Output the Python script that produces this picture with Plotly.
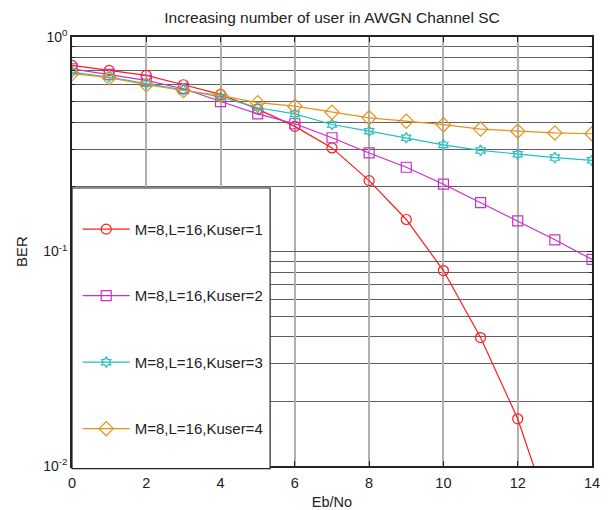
import plotly.graph_objects as go

ebno = [0, 1, 2, 3, 4, 5, 6, 7, 8, 9, 10, 11, 12, 13, 14]
ber_k1 = [0.737, 0.699, 0.662, 0.599, 0.540, 0.461, 0.383, 0.304, 0.214, 0.141, 0.0815, 0.0397, 0.0166, 0.0051]
ber_k2 = [0.711, 0.670, 0.628, 0.574, 0.500, 0.438, 0.394, 0.339, 0.288, 0.247, 0.206, 0.169, 0.139, 0.1134, 0.0918]
ber_k3 = [0.686, 0.651, 0.606, 0.567, 0.525, 0.468, 0.438, 0.391, 0.364, 0.339, 0.314, 0.296, 0.284, 0.274, 0.266]
ber_k4 = [0.675, 0.646, 0.599, 0.563, 0.534, 0.494, 0.476, 0.446, 0.420, 0.405, 0.390, 0.372, 0.364, 0.357, 0.354]

names = ["M=8,L=16,Kuser=1", "M=8,L=16,Kuser=2", "M=8,L=16,Kuser=3", "M=8,L=16,Kuser=4"]
colors = ["#ff1a1a", "#cc2ecc", "#22c0c0", "#e8901a"]
symbols = ["circle-open", "square-open", "hexagram-open", "diamond-open"]
sizes = [10, 10, 8, 11]
series = [ber_k1, ber_k2, ber_k3, ber_k4]

ytick_vals = [0.01, 0.1, 1]
ytick_text = ["10<sup>-2</sup>", "10<sup>-1</sup>", "10<sup>0</sup>"]
xtick_vals = [0, 2, 4, 6, 8, 10, 12, 14]
yminor_vals = [m * 10.0 ** e for e in (-2, -1) for m in range(2, 10)]

font = "Arial, Liberation Sans, sans-serif"

fig = go.Figure()
for i, (vals, name) in enumerate(zip(series, names)):
    fig.add_trace(go.Scatter(
        x=ebno[:len(vals)], y=vals, name=name, mode="lines+markers",
        legendgroup=f"g{i}",
        line=dict(color=colors[i], width=1.2),
        marker=dict(symbol=symbols[i], size=sizes[i], color=colors[i],
                    line=dict(width=1.2, color=colors[i])),
    ))

fig.update_layout(
    width=610, height=510,
    margin=dict(l=72, r=18, t=37, b=44),
    paper_bgcolor="white", plot_bgcolor="white",
    font=dict(family=font, size=14, color="#222"),
    title=dict(text="Increasing number of user in AWGN Channel SC",
               x=(72 + 260) / 610, xanchor="center", y=1 - 18 / 510, yanchor="middle",
               font=dict(size=15.5, family=font, color="#222")),
    showlegend=True,
    legend=dict(x=0.011, xanchor="left", y=0.59, yanchor="top",
                bgcolor="rgba(0,0,0,0)", borderwidth=0,
                font=dict(size=15, family=font, color="#222"),
                tracegroupgap=44, itemwidth=47),
    shapes=[dict(type="rect", xref="paper", yref="paper",
                 x0=0.0, x1=0.381, y0=-0.006, y1=0.648,
                 fillcolor="white", line=dict(color="#222", width=1.2), layer="above")],
)

fig.update_xaxes(
    range=[0, 14], tickvals=xtick_vals, ticks="inside", ticklen=5, tickcolor="#222",
    showline=True, linecolor="#222", linewidth=1.5, mirror="ticks",
    showgrid=True, gridcolor="#b0b0b0", gridwidth=1.5, zeroline=False,
    automargin=False, ticklabelstandoff=3,
    title=dict(text="Eb/No", standoff=10, font=dict(size=14.5, family=font)),
    tickfont=dict(size=14.5, family=font),
)
fig.update_yaxes(
    type="log", range=[-2, 0], tickvals=ytick_vals, ticktext=ytick_text,
    ticks="inside", ticklen=5, tickcolor="#222",
    showline=True, linecolor="#222", linewidth=1.5, mirror="ticks",
    showgrid=True, gridcolor="#606060", gridwidth=1, zeroline=False,
    automargin=False,
    minor=dict(tickmode="array", tickvals=yminor_vals, ticks="inside", ticklen=3,
               tickcolor="#222", showgrid=True, gridcolor="#606060", gridwidth=1),
    title=dict(text="BER", standoff=12, font=dict(size=15, family=font)),
    tickfont=dict(size=14, family=font),
)

fig.write_html("out.html")
